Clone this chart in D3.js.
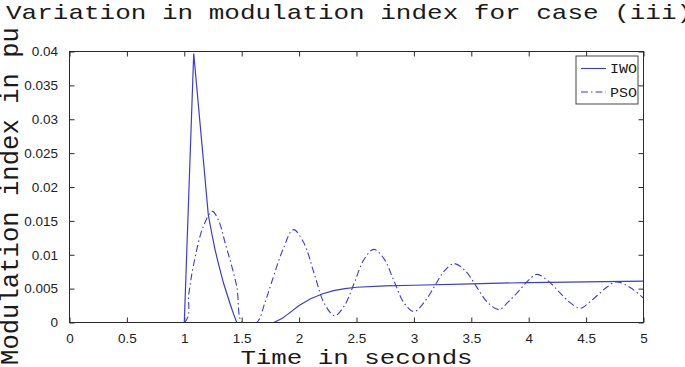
<!DOCTYPE html>
<html>
<head>
<meta charset="utf-8">
<script src="https://cdn.jsdelivr.net/npm/d3@7"></script>
<style>
  body { margin: 0; background: #fff; }
  .mono { font-family: "Liberation Mono", "DejaVu Sans Mono", monospace; fill: #1a1a1a; }
  .tick text { font-family: "Liberation Sans", Arial, sans-serif; font-size: 13.5px; fill: #222; }
</style>
</head>
<body>
<div id="chart"></div>
<script>
// Data
const iwoTime = [0, 1.0, 1.082, 1.15, 1.209, 1.24, 1.267, 1.3, 1.34, 1.4, 1.43, 1.457,
    1.78, 1.85, 1.9, 2.0, 2.1, 2.2, 2.3, 2.4, 2.5, 2.75, 3.0, 3.5, 4.0, 4.5, 5.0];
const iwoValue = [0, 0, 0.0397, 0.027, 0.0159, 0.0131, 0.0108, 0.0085, 0.0059, 0.0027, 0.0012, 0,
    0, 0.0006, 0.0012, 0.0025, 0.0035, 0.0042, 0.0047, 0.005, 0.0052, 0.0054, 0.0055, 0.0057, 0.0059, 0.006, 0.0061];

const psoTime = [0, 1.0, 1.04, 1.078, 1.166, 1.244, 1.3, 1.355, 1.456, 1.505, 1.63, 1.7, 1.76, 1.86,
    1.95, 2.04, 2.13, 2.22, 2.31, 2.395, 2.48, 2.565, 2.65, 2.74, 2.825, 2.91, 3.0,
    3.09, 3.175, 3.26, 3.35, 3.45, 3.545, 3.64, 3.74, 3.82, 3.905, 3.99, 4.07,
    4.165, 4.26, 4.355, 4.45, 4.53, 4.605, 4.68, 4.76, 4.88, 5.0];
const psoValue = [0, 0, 0.0043, 0.0083, 0.0142, 0.0164, 0.015, 0.0118, 0.0054, 0, 0, 0.0028, 0.0059, 0.0108,
    0.0137, 0.0118, 0.0073, 0.0028, 0.001, 0.0025, 0.0058, 0.0093, 0.0108, 0.0094, 0.0062, 0.003, 0.0016,
    0.003, 0.0052, 0.0075, 0.0087, 0.0076, 0.0053, 0.003, 0.0019, 0.003, 0.0045, 0.0061, 0.0071,
    0.0062, 0.0046, 0.003, 0.0021, 0.003, 0.0041, 0.0052, 0.006, 0.0052, 0.0036];

const xTicks = [0, 0.5, 1, 1.5, 2, 2.5, 3, 3.5, 4, 4.5, 5];
const xTickLabels = ["0", "0.5", "1", "1.5", "2", "2.5", "3", "3.5", "4", "4.5", "5"];
const yTicks = [0, 0.005, 0.01, 0.015, 0.02, 0.025, 0.03, 0.035, 0.04];
const yTickLabels = ["0", "0.005", "0.01", "0.015", "0.02", "0.025", "0.03", "0.035", "0.04"];

const seriesNames = ["IWO", "PSO"];

// Dimensions
const W = 685, H = 367;
const margin = { top: 51.5, right: 41.5, bottom: 44.5, left: 69.5 },
    width = W - margin.left - margin.right,
    height = H - margin.top - margin.bottom;

const lineColor = "#3b3bd8";
const axisColor = "#2a2a2a";
const dashDot = "7,3,1.5,3";
const squash = 0.8; // the reference text is a little flattened

const svg = d3.select("#chart")
    .append("svg")
    .attr("width", W)
    .attr("height", H)
    .style("background", "#fff");

const g = svg.append("g")
    .attr("transform", `translate(${margin.left}, ${margin.top})`);

const xScale = d3.scaleLinear().domain([0, 5]).range([0, width]);
const yScale = d3.scaleLinear().domain([0, 0.04]).range([height, 0]);

g.append("clipPath").attr("id", "plotClip")
    .append("rect").attr("width", width).attr("height", height + 1).attr("y", -0.5);

// Axes with inward ticks
const styleAxis = sel => {
    sel.select(".domain").remove();
    sel.selectAll(".tick line").attr("stroke", axisColor);
};

g.append("g")
    .attr("transform", `translate(0, ${height})`)
    .call(d3.axisBottom(xScale).tickValues(xTicks)
        .tickFormat((d, i) => xTickLabels[i]).tickSizeInner(-5).tickSizeOuter(0).tickPadding(11))
    .call(styleAxis);

g.append("g")
    .call(d3.axisTop(xScale).tickValues(xTicks).tickFormat("").tickSizeInner(-5).tickSizeOuter(0))
    .call(styleAxis);

g.append("g")
    .call(d3.axisLeft(yScale).tickValues(yTicks)
        .tickFormat((d, i) => yTickLabels[i]).tickSizeInner(-5).tickSizeOuter(0).tickPadding(11.5))
    .call(styleAxis);

g.append("g")
    .attr("transform", `translate(${width}, 0)`)
    .call(d3.axisRight(yScale).tickValues(yTicks).tickFormat("").tickSizeInner(-5).tickSizeOuter(0))
    .call(styleAxis);

g.selectAll("g").attr("font-family", null).attr("font-size", null);

// Lines
const iwoData = iwoTime.map((t, i) => ({ t: t, v: iwoValue[i] }));
const psoData = psoTime.map((t, i) => ({ t: t, v: psoValue[i] }));

const iwoLine = d3.line()
    .x(d => xScale(d.t))
    .y(d => yScale(d.v));

const psoLine = d3.line()
    .x(d => xScale(d.t))
    .y(d => yScale(d.v))
    .curve(d3.curveCatmullRom.alpha(0.5));

const lines = g.append("g").attr("clip-path", "url(#plotClip)");

lines.append("path")
    .datum(psoData)
    .attr("d", psoLine)
    .attr("fill", "none")
    .attr("stroke", lineColor)
    .attr("stroke-width", 1.1)
    .attr("stroke-dasharray", dashDot);

lines.append("path")
    .datum(iwoData)
    .attr("d", iwoLine)
    .attr("fill", "none")
    .attr("stroke", lineColor)
    .attr("stroke-width", 1.2);

// Frame
g.append("rect")
    .attr("width", width)
    .attr("height", height)
    .attr("fill", "none")
    .attr("stroke", axisColor)
    .attr("stroke-width", 1);

// Legend
const legend = g.append("g")
    .attr("transform", `translate(${width - 67.5}, 4.5)`);

legend.append("rect")
    .attr("width", 62)
    .attr("height", 48)
    .attr("fill", "#fff")
    .attr("stroke", "#333")
    .attr("stroke-width", 0.9);

seriesNames.forEach((name, i) => {
    const yy = 12.5 + i * 23.5;
    legend.append("line")
        .attr("x1", 5).attr("x2", 30)
        .attr("y1", yy).attr("y2", yy)
        .attr("stroke", lineColor)
        .attr("stroke-width", 1.1)
        .attr("stroke-dasharray", i === 1 ? dashDot : null);
    legend.append("text")
        .attr("class", "mono")
        .attr("transform", `translate(34, ${yy + 4.5}) scale(1, ${squash + 0.05})`)
        .style("font-size", "15px")
        .text(name);
});

// Titles
svg.append("text")
    .attr("class", "mono")
    .attr("transform", `translate(6, 18.5) scale(1, ${squash})`)
    .style("font-size", "26px")
    .text("Variation in modulation index for case (iii)");

svg.append("text")
    .attr("class", "mono")
    .attr("transform", `translate(${margin.left + width / 2}, 363.5) scale(1, ${squash})`)
    .attr("text-anchor", "middle")
    .style("font-size", "25.8px")
    .text("Time in seconds");

svg.append("text")
    .attr("class", "mono")
    .attr("transform", "translate(17.5, 196) rotate(-90)")
    .attr("text-anchor", "middle")
    .style("font-size", "25.6px")
    .text("Modulation index in pu");
</script>
</body>
</html>
